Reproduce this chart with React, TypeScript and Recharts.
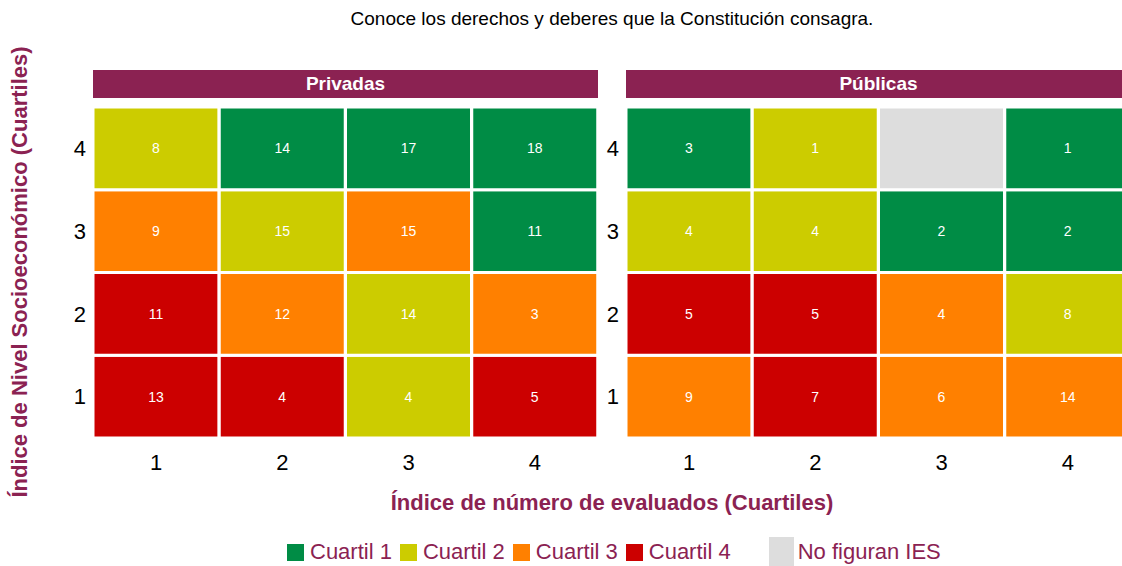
import { BarChart, Bar, XAxis, YAxis, Cell, LabelList } from 'recharts';

const xCats = ['1', '2', '3', '4'];
const yCats = ['1', '2', '3', '4'];

// rows from y=1 (bottom) to y=4 (top), columns x=1..4
const privadasCounts = [
    [13, 4, 4, 5],
    [11, 12, 14, 3],
    [9, 15, 15, 11],
    [8, 14, 17, 18],
];
const privadasQuartiles = [
    [4, 4, 2, 4],
    [4, 3, 2, 3],
    [3, 2, 3, 1],
    [2, 1, 1, 1],
];
const publicasCounts = [
    [9, 7, 6, 14],
    [5, 5, 4, 8],
    [4, 4, 2, 2],
    [3, 1, null, 1],
];
const publicasQuartiles = [
    [3, 4, 3, 3],
    [4, 4, 3, 2],
    [2, 2, 1, 1],
    [1, 2, 0, 1],
];

const legendLabels = ['Cuartil 1', 'Cuartil 2', 'Cuartil 3', 'Cuartil 4', 'No figuran IES'];
const legendKeys = [1, 2, 3, 4, 0];

const palette: Record<number, string> = {
    0: '#DDDDDD',
    1: '#008C45',
    2: '#CCCC00',
    3: '#FF8000',
    4: '#CC0000',
};
const maroon = '#8B2252';
const font = '"Liberation Sans", Arial, sans-serif';

function Facet({ title, counts, quartiles, left }: { title: string; counts: (number | null)[][]; quartiles: number[][]; left: number }) {
    const data = xCats.map((x, i) => {
        const row: any = { x };
        yCats.forEach((y, j) => {
            row['v' + y] = 1;
            row['n' + y] = counts[j][i];
            row['q' + y] = quartiles[j][i];
        });
        return row;
    });
    return (
        <div style={{ position: 'absolute', left, top: 70 }}>
            <div style={{
                marginLeft: 33, width: 505, height: 28, lineHeight: '28px', background: maroon,
                color: '#fff', fontWeight: 700, fontSize: 19, textAlign: 'center'
            }}>{title}</div>
            <BarChart width={538} height={380} data={data} margin={{ top: 9, right: 0, bottom: 0, left: 0 }} barCategoryGap={0}>
                <XAxis
                    dataKey="x"
                    tickLine={false}
                    axisLine={false}
                    tickSize={0}
                    tickMargin={16}
                    height={40}
                    tick={{ fill: '#000', fontSize: 22, fontFamily: font }}
                />
                <YAxis
                    type="number"
                    domain={[0, 4]}
                    ticks={[0.5, 1.5, 2.5, 3.5]}
                    tickFormatter={(v: number) => yCats[Math.floor(v)]}
                    width={33}
                    tickLine={false}
                    axisLine={false}
                    tickSize={0}
                    tickMargin={7}
                    tick={{ fill: '#000', fontSize: 22, fontFamily: font }}
                />
                {yCats.map((y) => (
                    <Bar key={y} dataKey={'v' + y} stackId="a" isAnimationActive={false} stroke="#fff" strokeWidth={3}>
                        {data.map((d, i) => <Cell key={i} fill={palette[d['q' + y]]} />)}
                        <LabelList
                            dataKey={'n' + y}
                            position="center"
                            fill="#fff"
                            fontSize={14}
                            fontFamily={font}
                            formatter={(v: any) => (v == null ? '' : v)}
                        />
                    </Bar>
                ))}
            </BarChart>
        </div>
    );
}

export default function App() {
    return (
        <div style={{ position: 'absolute', left: 0, top: 0, width: 1122, height: 566, overflow: 'hidden', background: '#fff', fontFamily: font }}>
            <div style={{ position: 'absolute', left: 93, top: 8, width: 1038, textAlign: 'center', fontSize: 19, color: '#000' }}>
                Conoce los derechos y deberes que la Constitución consagra.
            </div>
            <Facet title="Privadas" counts={privadasCounts} quartiles={privadasQuartiles} left={60} />
            <Facet title="Públicas" counts={publicasCounts} quartiles={publicasQuartiles} left={593} />
            <div style={{
                position: 'absolute', left: 20 - 260, top: 272 - 13, width: 520, height: 26, lineHeight: '26px',
                textAlign: 'center', transform: 'rotate(-90deg)', color: maroon, fontWeight: 700, fontSize: 22
            }}>
                Índice de Nivel Socioeconómico (Cuartiles)
            </div>
            <div style={{
                position: 'absolute', left: 93, top: 490, width: 1038, textAlign: 'center',
                color: maroon, fontWeight: 700, fontSize: 22
            }}>
                Índice de número de evaluados (Cuartiles)
            </div>
            <div style={{ position: 'absolute', left: 287, top: 537, height: 30, display: 'flex', alignItems: 'center', color: maroon, fontSize: 22 }}>
                {legendLabels.map((label, i) => {
                    const k = legendKeys[i];
                    const big = k === 0;
                    return (
                        <div key={label} style={{ display: 'flex', alignItems: 'center', marginLeft: big ? 38 : (i === 0 ? 0 : 8) }}>
                            <div style={{ width: big ? 25 : 17, height: big ? 30 : 17, background: palette[k] }} />
                            <span style={{ marginLeft: big ? 4 : 6 }}>{label}</span>
                        </div>
                    );
                })}
            </div>
        </div>
    );
}
